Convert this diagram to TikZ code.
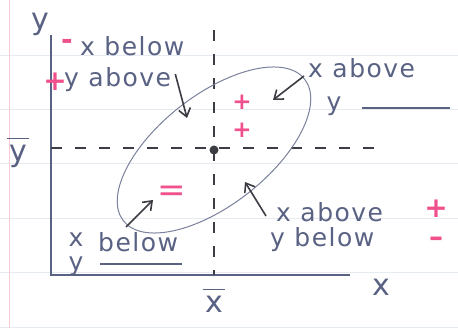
\documentclass[tikz,border=0pt]{standalone}
\usepackage{fontspec}
\setmainfont{DejaVu Sans}
\newfontfamily\handfont[LetterSpace=6]{DejaVu Sans}
\usepackage{tikz}
\usetikzlibrary{arrows.meta,positioning,calc}
\definecolor{ink}{HTML}{5A6284}
\definecolor{pencil}{HTML}{3C3C44}
\definecolor{pinkink}{HTML}{F0508C}
\definecolor{rule}{HTML}{E6EAF1}
\definecolor{margin}{HTML}{F6C9D3}
\tikzset{
  hand/.style={text=ink, font=\handfont\fontsize{25}{27}\selectfont, inner sep=0pt},
  big/.style={hand, font=\handfont\fontsize{30}{32}\selectfont},
  sign/.style={text=pinkink, font=\bfseries\fontsize{28}{30}\selectfont, inner sep=0pt},
  small sign/.style={sign, font=\bfseries\fontsize{23}{25}\selectfont},
  axis/.style={draw=ink, line width=1.6pt},
  mean/.style={draw=pencil, line width=1.3pt, dash pattern=on 11pt off 13pt},
  blank/.style={draw=ink, line width=1.3pt},
  arr/.style={draw=pencil, line width=1.6pt, -{Straight Barb[length=8pt, width=12pt]}},
  cloud/.style={draw=ink!80, line width=1pt}
}
\begin{document}
\begin{tikzpicture}[x=1pt, y=-1pt]
\useasboundingbox[fill=white] (0,0) rectangle (458,328);
% notebook paper
\foreach \r in {55,109,163,218,272,327} \draw[rule, line width=0.8pt] (0,\r) -- (458,\r);
\draw[margin, line width=1pt] (9,0) -- (9,328);
% axes
\coordinate (origin) at (51,275);
\coordinate (ytop) at (51,35);
\coordinate (xend) at (350,275);
\draw[axis] (ytop) -- (origin) -- (xend);
\node[big] (ylab) at (40,24) {y};
\node[big] (xlab) at (381,287) {x};
% means
\coordinate (mx) at (214,150);
\draw[mean] (214,30) -- (214,275);
\draw[mean] (51,148) -- (378,148);
\node[big] (ybar) at (18,156) {y};
\draw[blank] ($(ybar.north west)+(-2,-6)$) -- ($(ybar.north east)+(2,-6)$);
\node[big] (xbar) at (214,304) {x};
\draw[blank] ($(xbar.north west)+(-2,-6)$) -- ($(xbar.north east)+(2,-6)$);
% scatter cloud
\draw[cloud, rotate around={38:(mx)}] (mx) ellipse [x radius=115, y radius=55];
\fill[pencil] (mx) circle (4.5pt);
% upper left
\node[sign] (m1) at (67,44) {-};
\node[hand, anchor=west] (xb1) at (80,46) {x below};
\node[sign] (p1) at (55,82) {+};
\node[hand, anchor=west] (ya1) at (64,80) {y above};
\coordinate (h1) at (187,118);
\draw[arr] ($(ya1.east)+(4,-6)$) -- (h1);
% upper right
\node[small sign] (p2) at (242,102) {+};
\node[small sign] (p3) at (242,130) {+};
\node[hand, anchor=west] (xa1) at (308,68) {x above};
\node[hand] (y1) at (334,106) {y};
\coordinate (u1) at (450,108);
\draw[blank] ($(y1.east)+(20,2)$) -- (u1);
\coordinate (h2) at (273,100);
\draw[arr] ($(xa1.west)+(-4,8)$) -- (h2);
% lower left
\node[sign, font=\fontsize{34}{36}\selectfont] (m2) at (172,194) {=};
\coordinate (t3) at (126,227);
\coordinate (h3) at (153,200);
\draw[arr] (t3) -- (h3);
\node[hand] (x2) at (76,240) {x};
\node[hand, anchor=west] (b2) at (98,242) {below};
\node[hand] (y2) at (76,266) {y};
\coordinate (u2) at (182,264);
\draw[blank] (100,264) -- (u2);
% lower right
\node[hand, anchor=west] (xa2) at (276,212) {x above};
\node[sign] (p4) at (436,209) {+};
\node[hand, anchor=west] (yb2) at (270,240) {y below};
\node[sign] (m3) at (436,242) {–};
\coordinate (h4) at (245,182);
\draw[arr] ($(xa2.west)+(-10,4)$) -- (h4);
\end{tikzpicture}
\end{document}
